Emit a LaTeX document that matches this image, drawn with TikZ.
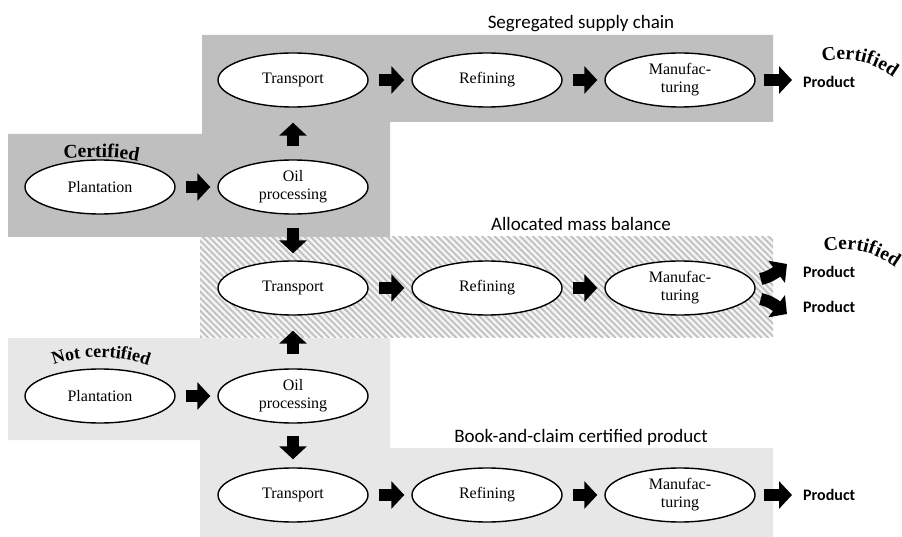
\documentclass[tikz,border=0pt]{standalone}
\usepackage{fontspec}
\setmainfont{Liberation Serif}
\newfontfamily\carlito{Carlito}
\usetikzlibrary{shapes.geometric,arrows.meta,decorations.text,patterns.meta}
\definecolor{certgray}{RGB}{191,191,191}
\definecolor{plaingray}{RGB}{231,231,231}
\definecolor{hatchgray}{RGB}{192,192,192}
\definecolor{hatchbg}{RGB}{244,244,244}
\newcommand\stampfont{\fontsize{18pt}{20pt}\selectfont\bfseries}
\newcommand\bigstampfont{\fontsize{19.5pt}{21pt}\selectfont\bfseries}

\begin{document}
\begin{tikzpicture}[x=1pt,y=-1pt,
  stage/.style={ellipse, draw, line width=1.4pt, fill=white,
    minimum width=150pt, minimum height=54pt, inner sep=0pt, align=center,
    font=\fontsize{16pt}{18pt}\selectfont},
  fat/.style={line width=12pt, -{Triangle[length=13pt,width=27pt]}},
  title/.style={font=\carlito\fontsize{19pt}{22pt}\selectfont, anchor=base, inner sep=0pt},
  product/.style={font=\carlito\bfseries\fontsize{16pt}{18pt}\selectfont, anchor=west, inner sep=0pt},
  stamp/.style={decorate, decoration={text along path, text align=center,
    text={|\stampfont|#1}}},
  bigstamp/.style={decorate, decoration={text along path, text align=center,
    text={|\bigstampfont|#1}}}
]
\useasboundingbox (0,0) rectangle (902,537);

% certified (segregated) area
\fill[certgray] (202,35) -- (773,35) -- (773,122) -- (390,122) -- (390,237)
  -- (8,237) -- (8,134) -- (202,134) -- cycle;
% allocated mass balance band
\fill[hatchbg] (200,237) rectangle (773,337);
\fill[pattern={Lines[angle=-45,distance=4.5pt,line width=1.8pt]}, pattern color=hatchgray]
  (200,237) rectangle (773,337);
% non-certified / book-and-claim area
\fill[plaingray] (8,338) -- (390,338) -- (390,448) -- (773,448) -- (773,537)
  -- (200,537) -- (200,440) -- (8,440) -- cycle;

% titles
\node[title] (tseg)  at (581,29)  {Segregated supply chain};
\node[title] (tall)  at (581,231) {Allocated mass balance};
\node[title] (tbook) at (581,442) {Book-and-claim certified product};

% certified sources
\node[stage] (pc) at (100,187) {Plantation};
\node[stage] (oc) at (293,187) {Oil\\processing};
% non-certified sources
\node[stage] (pn) at (100,396) {Plantation};
\node[stage] (on) at (293,396) {Oil\\processing};

% segregated chain
\node[stage] (t1) at (293,80) {Transport};
\node[stage] (r1) at (487,80) {Refining};
\node[stage] (m1) at (680,80) {Manufac-\\turing};
% mass balance chain
\node[stage] (t2) at (293,288) {Transport};
\node[stage] (r2) at (487,288) {Refining};
\node[stage] (m2) at (680,288) {Manufac-\\turing};
% book-and-claim chain
\node[stage] (t3) at (293,495) {Transport};
\node[stage] (r3) at (487,495) {Refining};
\node[stage] (m3) at (680,495) {Manufac-\\turing};

% products
\node[product] (p1)  at (803,82)  {Product};
\node[product] (p2a) at (803,272) {Product};
\node[product] (p2b) at (803,307) {Product};
\node[product] (p3)  at (803,495) {Product};
\coordinate (cu) at (787,264);
\coordinate (cd) at (787,314);

% arched labels
\path[bigstamp=Certified] (56,159) .. controls (95,157) and (120,156) .. (146,163);
\path[stamp=Not certified] (48,367) .. controls (80,354) and (120,354) .. (154,368);
\path[bigstamp=Certified] (818,63) .. controls (846,56) and (872,60) .. (897,80);
\path[bigstamp=Certified] (820,253) .. controls (848,246) and (874,250) .. (899,270);

% horizontal flow
\draw[fat, shorten <=10pt, shorten >=7pt] (pc) -- (oc);
\draw[fat, shorten <=10pt, shorten >=7pt] (pn) -- (on);
\foreach \a/\b in {t1/r1, r1/m1, t2/r2, r2/m2, t3/r3, r3/m3}
  \draw[fat, shorten <=10pt, shorten >=7pt] (\a) -- (\b);

% vertical flow
\draw[fat, shorten <=13pt, shorten >=15pt] (oc) -- (t1);
\draw[fat, shorten <=13pt, shorten >=7pt] (oc) -- (t2);
\draw[fat, shorten <=14pt, shorten >=15pt] (on) -- (t2);
\draw[fat, shorten <=12pt, shorten >=8pt] (on) -- (t3);

% outputs
\draw[fat, shorten <=8pt, shorten >=11pt] (m1.east) -- (m1.east -| p1.west);
\draw[fat, shorten <=8pt, shorten >=11pt] (m3.east) -- (m3.east -| p3.west);
\draw[fat] ([shift={(5,-9)}]m2.east) .. controls +(10,-2) and +(-8,6) .. (cu);
\draw[fat] ([shift={(5,11)}]m2.east) .. controls +(10,2) and +(-8,-6) .. (cd);
\end{tikzpicture}
\end{document}
